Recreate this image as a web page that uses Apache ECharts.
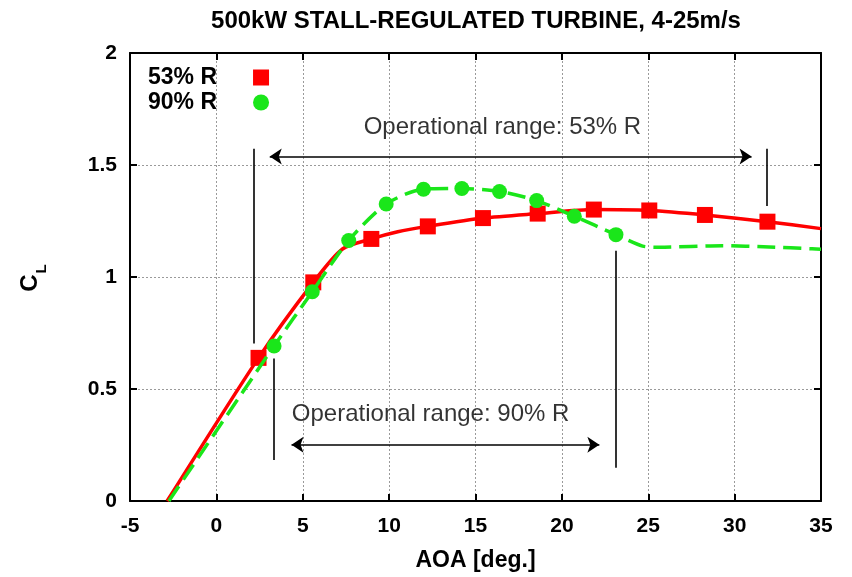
<!DOCTYPE html>
<html>
<head>
<meta charset="utf-8">
<script src="https://cdn.jsdelivr.net/npm/echarts@6/dist/echarts.min.js"></script>
<style>html,body{margin:0;padding:0;background:#fff}#c{width:852px;height:577px}</style>
</head>
<body>
<div id="c"></div>
<script>
// ---- data ----
const titleText = '500kW STALL-REGULATED TURBINE, 4-25m/s';
const xName = 'AOA [deg.]';
const seriesNames = ['53% R', '90% R'];

// 53% R : measured points (markers)
const mAoa53 = [2.44, 5.61, 8.97, 12.24, 15.43, 18.6, 21.85, 25.06, 28.28, 31.9];
const mCl53  = [0.639, 0.976, 1.170, 1.226, 1.263, 1.283, 1.301, 1.297, 1.277, 1.247];
// 53% R : curve
const cAoa53 = [-2.85, 2.44, 5.61, 7.3, 8.97, 10.5, 12.24, 15.43, 18.6, 21.85, 25.06, 28.28, 31.9, 35];
const cCl53  = [0, 0.639, 0.976, 1.125, 1.170, 1.202, 1.226, 1.263, 1.283, 1.301, 1.297, 1.277, 1.247, 1.216];

// 90% R : measured points (markers)
const mAoa90 = [3.34, 5.55, 7.66, 9.83, 11.99, 14.21, 16.39, 18.54, 20.72, 23.13];
const mCl90  = [0.692, 0.934, 1.163, 1.326, 1.392, 1.395, 1.382, 1.341, 1.271, 1.189];
// 90% R : curve
const cAoa90 = [-2.75, 3.34, 5.55, 7.66, 9.83, 11.99, 14.21, 16.39, 18.54, 20.72, 23.13, 24.67, 25.64, 29.28, 32.0, 34.48, 35];
const cCl90  = [0, 0.692, 0.934, 1.163, 1.326, 1.392, 1.395, 1.382, 1.341, 1.271, 1.189, 1.138, 1.133, 1.140, 1.134, 1.126, 1.124];

// annotations: vertical range markers [x, yFrom, yTo]
const vMarks = [[2.14, 0.703, 1.573], [31.85, 1.317, 1.572], [3.34, 0.183, 0.636], [23.09, 0.148, 1.117]];
// arrows [xFrom, xTo, y]
const arrows = [[3.09, 30.98, 1.538], [4.35, 22.17, 0.251]];
// annotation texts
const annText = ['Operational range: 53% R', 'Operational range: 90% R'];
const annX = [16.56, 12.4];
const annY = [1.667, 0.385];

const xMin = -5, xMax = 35, xStep = 5;
const yMin = 0, yMax = 2, yStep = 0.5;

// ---- chart ----
const FF = '"Liberation Sans", Arial, Helvetica, sans-serif';
const RED = '#ff0000', GREEN = '#1ae61a';
const chart = echarts.init(document.getElementById('c'), null, {renderer: 'canvas'});
const zip = (a, b) => a.map((v, i) => [v, b[i]]);

const gridLine = {show: true, lineStyle: {color: '#9a9a9a', type: [2, 2], width: 1}};
const axLine = {show: true, onZero: false, lineStyle: {color: '#000', width: 2}};
const tick = {show: true, inside: true, length: 7, lineStyle: {color: '#000', width: 2}};
const lab = {color: '#000', fontFamily: FF, fontWeight: 'bold', fontSize: 21};

const markLines = [];
vMarks.forEach(v => markLines.push([{coord: [v[0], v[1]], symbol: 'none'}, {coord: [v[0], v[2]], symbol: 'none'}]));
arrows.forEach(a => markLines.push([{coord: [a[0], a[2]], symbol: 'arrow'}, {coord: [a[1], a[2]], symbol: 'arrow'}]));

chart.setOption({
  animation: false,
  backgroundColor: '#fff',
  title: {
    text: titleText, left: 471, top: 4, textAlign: 'center',
    textStyle: {fontFamily: FF, fontWeight: 'bold', fontSize: 24, color: '#000'}
  },
  legend: {
    orient: 'vertical', align: 'right', left: 143, top: 61,
    itemWidth: 16, itemHeight: 16, itemGap: 2,
    data: [{name: seriesNames[0], icon: 'rect'}, {name: seriesNames[1], icon: 'circle'}],
    textStyle: {fontFamily: FF, fontWeight: 'bold', fontSize: 23, color: '#000', lineHeight: 23, padding: [0, 31, 0, 0]},
    selectedMode: false
  },
  grid: {left: 130, right: 31, top: 53, bottom: 74, containLabel: false},
  xAxis: [{
    type: 'value', min: xMin, max: xMax, interval: xStep,
    axisLine: axLine, axisTick: tick, splitLine: gridLine,
    axisLabel: Object.assign({margin: 15}, lab),
    name: xName, nameLocation: 'middle', nameGap: 48,
    nameTextStyle: {color: '#000', fontFamily: FF, fontWeight: 'bold', fontSize: 23}
  }, {
    type: 'value', position: 'top', min: xMin, max: xMax, interval: xStep,
    axisLine: axLine, axisTick: tick, splitLine: {show: false}, axisLabel: {show: false}
  }],
  yAxis: [{
    type: 'value', min: yMin, max: yMax, interval: yStep,
    axisLine: axLine, axisTick: tick, splitLine: gridLine,
    axisLabel: Object.assign({margin: 13}, lab)
  }, {
    type: 'value', position: 'right', min: yMin, max: yMax, interval: yStep,
    axisLine: axLine, axisTick: tick, splitLine: {show: false}, axisLabel: {show: false}
  }],
  graphic: [
    {type: 'text', x: 30, y: 283, rotation: Math.PI / 2,
     style: {text: 'C', fontFamily: FF, fontWeight: 'bold', fontSize: 24, fill: '#000', align: 'center', verticalAlign: 'middle'}},
    {type: 'text', x: 42, y: 269, rotation: Math.PI / 2,
     style: {text: 'L', fontFamily: FF, fontWeight: 'bold', fontSize: 15, fill: '#000', align: 'center', verticalAlign: 'middle'}}
  ],
  series: [
    {name: 'c53', type: 'line', data: zip(cAoa53, cCl53), showSymbol: false, symbol: 'none', smooth: 0.25,
     lineStyle: {color: RED, width: 3.5}, z: 3, silent: true},
    {name: seriesNames[0], type: 'scatter', data: zip(mAoa53, mCl53), symbol: 'rect', symbolSize: 16,
     itemStyle: {color: RED, opacity: 1}, z: 4},
    {name: 'c90', type: 'line', data: zip(cAoa90, cCl90), showSymbol: false, symbol: 'none', smooth: 0.25,
     lineStyle: {color: GREEN, width: 3.5, type: [18, 8]}, z: 5, silent: true},
    {name: seriesNames[1], type: 'scatter', data: zip(mAoa90, mCl90), symbol: 'circle', symbolSize: 15,
     itemStyle: {color: GREEN, opacity: 1}, z: 6},
    {name: 'annot', type: 'line', data: [], z: 7, silent: true,
     markLine: {silent: true, animation: false, symbolSize: 12, label: {show: false},
       lineStyle: {color: '#000', width: 1.6, type: 'solid'},
       emphasis: {disabled: true},
       data: markLines}},
    {name: 'annotText', type: 'scatter', symbolSize: 0, z: 8, silent: true,
     data: annText.map((t, i) => ({value: [annX[i], annY[i]], label: {formatter: t}})),
     label: {show: true, position: 'inside', color: '#000', fontFamily: FF, fontSize: 24}}
  ]
});
</script>
</body>
</html>
